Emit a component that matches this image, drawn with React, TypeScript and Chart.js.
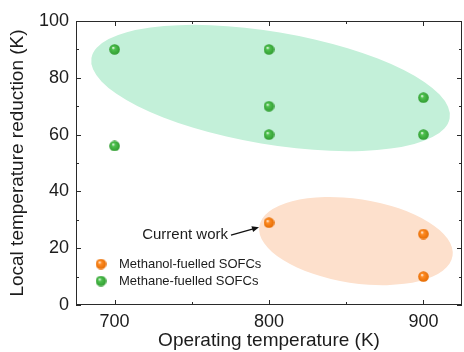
import React, { useEffect, useRef } from "react";
import { Chart, registerables } from "chart.js";

Chart.register(...registerables);

const methanolX = [800, 900, 900];
const methanolY = [29, 25, 10];
const methaneX = [700, 700, 800, 800, 800, 900, 900];
const methaneY = [90, 56, 90, 70, 60, 73, 60];
const xMajorTicks = [700, 800, 900];
const xMinorTicks = [750, 850];
const yMajorTicks = [0, 20, 40, 60, 80, 100];
const yMinorTicks = [10, 30, 50, 70, 90];
const seriesNames = ["Methanol-fuelled SOFCs", "Methane-fuelled SOFCs"];
// region ellipses: [centerX, centerY, majorAxisEndX, majorAxisEndY, minor/major ratio]
const methaneRegion = [801, 76.4, 917, 65.8, 0.31];
const methanolRegion = [856.3, 22.5, 918.9, 17.3, 0.43];
const annotationText = "Current work";
const annotationIndex = 0; // methanol point of this work

const FONT = "'Liberation Sans', Arial, Helvetica, sans-serif";
const TEXT = "#1c1c1c";

function makeSphere(base: string, dark: string, size: number) {
  const c = document.createElement("canvas");
  c.width = size;
  c.height = size;
  const g = c.getContext("2d")!;
  const r = size / 2;
  const grad = g.createRadialGradient(r * 0.72, r * 0.68, 0.2, r, r, r);
  grad.addColorStop(0, "#ffffff");
  grad.addColorStop(0.28, base);
  grad.addColorStop(1, dark);
  g.fillStyle = grad;
  g.beginPath();
  g.arc(r, r, r - 0.2, 0, Math.PI * 2);
  g.fill();
  return c;
}

export default function App() {
  const ref = useRef<HTMLCanvasElement | null>(null);

  useEffect(() => {
    if (!ref.current) return;
    const orangeSphere = makeSphere("#ff8c24", "#e46a00", 11);
    const greenSphere = makeSphere("#4fc24f", "#2f9a2f", 11);

    const regionPlugin = {
      id: "regions",
      beforeDatasetsDraw(chart: any) {
        const { ctx, scales } = chart;
        const xs = scales.x;
        const ys = scales.y;
        const draw = (r: number[], color: string) => {
          const cx = xs.getPixelForValue(r[0]);
          const cy = ys.getPixelForValue(r[1]);
          const ex = xs.getPixelForValue(r[2]);
          const ey = ys.getPixelForValue(r[3]);
          const a = Math.hypot(ex - cx, ey - cy);
          const ang = Math.atan2(ey - cy, ex - cx);
          ctx.save();
          ctx.fillStyle = color;
          ctx.beginPath();
          ctx.ellipse(cx, cy, a, a * r[4], ang, 0, Math.PI * 2);
          ctx.fill();
          ctx.restore();
        };
        draw(methaneRegion, "#c3f0d9");
        draw(methanolRegion, "#fde0cc");
      },
    };

    const framePlugin = {
      id: "frame",
      afterDraw(chart: any) {
        const { ctx, chartArea, scales } = chart;
        const { left, right, top, bottom } = chartArea;
        const xs = scales.x;
        const ys = scales.y;
        ctx.save();
        ctx.strokeStyle = "#2a2a2a";
        ctx.lineWidth = 1;
        ctx.strokeRect(left + 0.5, top + 0.5, right - left - 1, bottom - top - 1);
        ctx.beginPath();
        const xt = (v: number, len: number) => {
          const p = Math.round(xs.getPixelForValue(v)) + 0.5;
          ctx.moveTo(p, bottom);
          ctx.lineTo(p, bottom - len);
          ctx.moveTo(p, top);
          ctx.lineTo(p, top + len);
        };
        const yt = (v: number, len: number) => {
          const p = Math.round(ys.getPixelForValue(v)) + 0.5;
          ctx.moveTo(left, p);
          ctx.lineTo(left + len, p);
          ctx.moveTo(right, p);
          ctx.lineTo(right - len, p);
        };
        xMajorTicks.forEach((v) => xt(v, 5));
        xMinorTicks.forEach((v) => xt(v, 3));
        yMajorTicks.forEach((v) => yt(v, 5));
        yMinorTicks.forEach((v) => yt(v, 3));
        ctx.stroke();

        // legend
        const sprites = [orangeSphere, greenSphere];
        ctx.font = `13px ${FONT}`;
        ctx.fillStyle = TEXT;
        ctx.textBaseline = "middle";
        ctx.textAlign = "left";
        seriesNames.forEach((name, i) => {
          const y = bottom - 41 + i * 17;
          ctx.drawImage(sprites[i], left + 25 - 5.5, y - 5.5);
          ctx.fillText(name, left + 43, y + 0.5);
        });

        // annotation
        const px = xs.getPixelForValue(methanolX[annotationIndex]);
        const py = ys.getPixelForValue(methanolY[annotationIndex]);
        const hx = px - 10;
        const hy = py + 4.5;
        const tx = px - 38;
        const ty = py + 12.5;
        ctx.strokeStyle = "#111";
        ctx.fillStyle = "#111";
        ctx.lineWidth = 1.2;
        ctx.beginPath();
        ctx.moveTo(tx, ty);
        ctx.lineTo(hx - 4, hy + 1.2);
        ctx.stroke();
        const ang = Math.atan2(hy - ty, hx - tx);
        ctx.beginPath();
        ctx.moveTo(hx, hy);
        ctx.lineTo(hx - 7 * Math.cos(ang) + 3 * Math.sin(ang), hy - 7 * Math.sin(ang) - 3 * Math.cos(ang));
        ctx.lineTo(hx - 7 * Math.cos(ang) - 3 * Math.sin(ang), hy - 7 * Math.sin(ang) + 3 * Math.cos(ang));
        ctx.closePath();
        ctx.fill();
        ctx.font = `15px ${FONT}`;
        ctx.fillStyle = TEXT;
        ctx.textAlign = "right";
        ctx.fillText(annotationText, tx - 3, ty - 0.5);
        ctx.restore();
      },
    };

    const chart = new Chart(ref.current, {
      type: "scatter",
      data: {
        datasets: [
          {
            label: seriesNames[1],
            data: methaneX.map((x, i) => ({ x, y: methaneY[i] })),
            pointStyle: greenSphere as any,
            pointRadius: 5.5,
          },
          {
            label: seriesNames[0],
            data: methanolX.map((x, i) => ({ x, y: methanolY[i] })),
            pointStyle: orangeSphere as any,
            pointRadius: 5.5,
          },
        ],
      },
      options: {
        animation: false,
        responsive: true,
        maintainAspectRatio: false,
        layout: { autoPadding: false, padding: { top: 21, right: 2, left: 0, bottom: 0 } },
        plugins: { legend: { display: false }, tooltip: { enabled: false } },
        scales: {
          x: {
            type: "linear",
            min: 675,
            max: 925,
            afterBuildTicks: (s: any) => {
              s.ticks = xMajorTicks.map((v) => ({ value: v }));
            },
            afterFit: (s: any) => {
              s.height = 47;
              s.paddingRight = 0;
              s.paddingLeft = 0;
            },
            grid: { display: false, drawTicks: false },
            border: { display: false },
            ticks: { font: { family: FONT, size: 18 }, color: TEXT, padding: 6, maxRotation: 0 },
            title: {
              display: true,
              text: "Operating temperature (K)",
              font: { family: FONT, size: 19 },
              color: TEXT,
              padding: { top: 0, bottom: 0 },
            },
          },
          y: {
            type: "linear",
            min: 0,
            max: 100,
            afterBuildTicks: (s: any) => {
              s.ticks = yMajorTicks.map((v) => ({ value: v }));
            },
            afterFit: (s: any) => {
              s.width = 76;
            },
            grid: { display: false, drawTicks: false },
            border: { display: false },
            ticks: { font: { family: FONT, size: 18 }, color: TEXT, padding: 7 },
            title: {
              display: true,
              text: "Local temperature reduction (K)",
              font: { family: FONT, size: 19 },
              color: TEXT,
              padding: { top: 6, bottom: 0 },
            },
          },
        },
      },
      plugins: [regionPlugin, framePlugin],
    });
    return () => chart.destroy();
  }, []);

  return (
    <div style={{ position: "absolute", left: 0, top: 0, width: 464, height: 352, background: "#fff" }}>
      <canvas ref={ref} />
    </div>
  );
}
